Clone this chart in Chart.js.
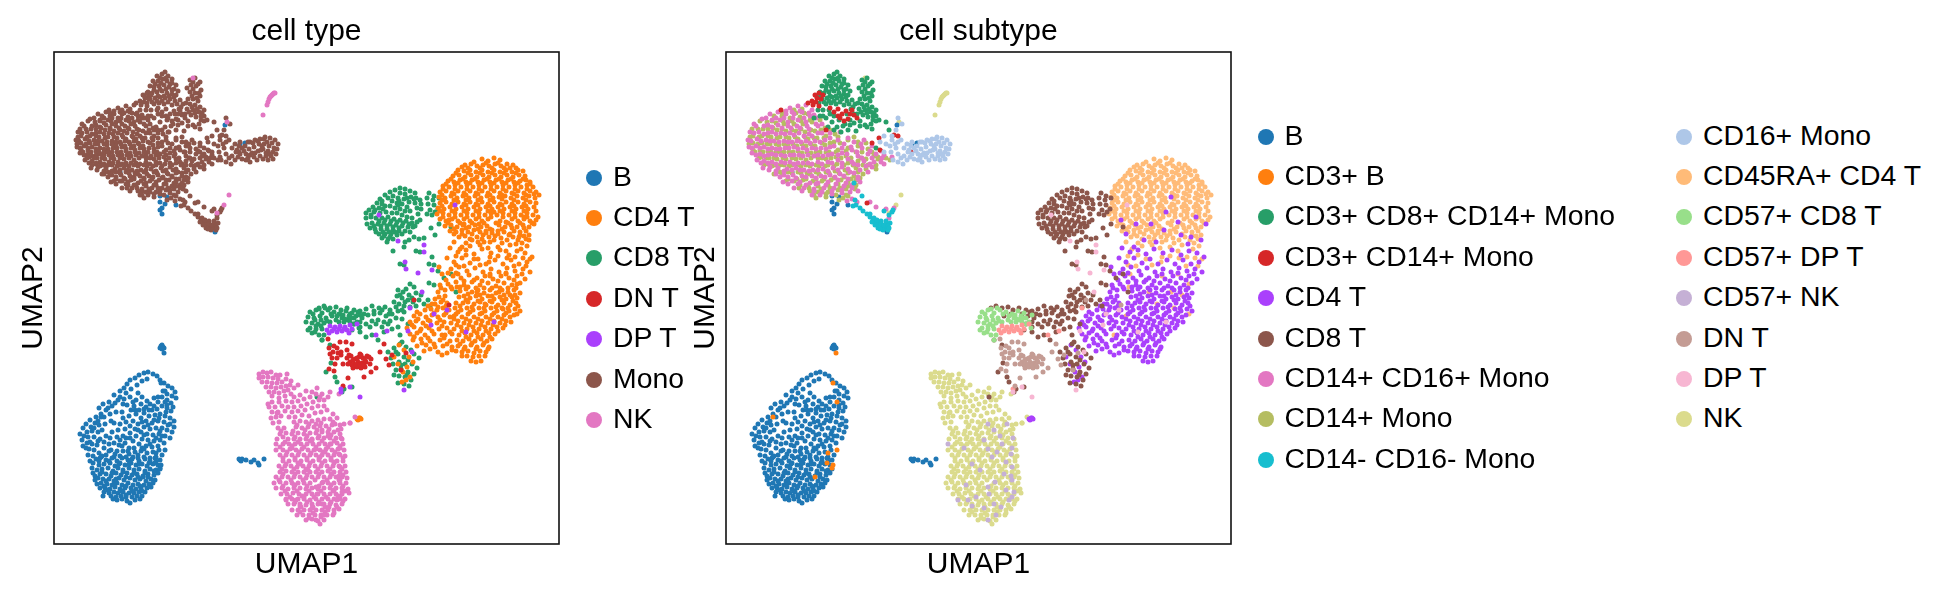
<!DOCTYPE html>
<html>
<head>
<meta charset="utf-8">
<title>UMAP cell type / cell subtype</title>
<script src="https://cdn.jsdelivr.net/npm/chart.js@4"></script>
<style>
    body { margin: 0; background: #fff; }
    #page { position: relative; width: 1947px; height: 599px; overflow: hidden; }
    canvas { position: absolute; top: 0; }
    .dot { position: absolute; width: 16px; height: 16px; border-radius: 50%; }
    .lab { position: absolute; font: 28.4px "Liberation Sans", Arial, sans-serif; line-height: 32px; white-space: nowrap; color: #000; }
</style>
</head>
<body>
<div id="page">
    <canvas id="typeChart" width="720" height="599" style="left:0"></canvas>
    <canvas id="subtypeChart" width="720" height="599" style="left:672px"></canvas>
</div>
<script>
// UMAP embedding per subtype, flat x,y pairs
const bCells = [
76,328,81,326,85,323,90,321,94,320,99,322,103,324,106,328,110,331,114,334,118,336,121,340,118,344,113,342,109,339,73,332,70,336,66,339,72,341,77,337,83,333,88,329,93,327,
108,345,113,348,117,351,104,350,100,346,96,352,108,354,113,356,117,359,103,357,98,358,92,355,87,352,82,348,80,354,85,358,90,361,95,364,101,363,106,362,111,364,116,366,120,369,116,372,110,370,104,369,98,371,92,369,87,366,82,362,77,358,75,364,79,369,84,372,90,375,96,377,102,376,108,376,113,378,118,380,111,384,105,382,99,383,93,382,87,380,81,377,76,374,72,370,69,366,66,372,71,377,76,381,82,384,88,387,94,388,100,389,106,388,110,391,104,394,98,395,92,394,85,392,79,389,
66,345,60,343,55,350,61,351,69,352,73,353,49,352,45,356,52,358,47,362,42,365,50,365,56,362,62,360,68,360,41,371,36,368,45,373,51,372,57,369,37,375,32,372,29,376,33,380,38,379,44,380,60,371,64,378,69,384,63,385,58,380,52,384,46,387,40,385,34,385,30,384,28,388,33,391,38,392,43,393,29,394,35,397,40,398,34,403,39,404,45,401,50,396,55,392,60,391,65,393,71,391,75,396,69,399,63,399,57,398,52,403,46,406,
75,402,81,400,87,399,93,401,99,400,105,398,108,403,102,405,96,406,90,405,84,406,78,407,72,405,66,404,60,405,
42,407,47,405,52,408,58,406,63,409,68,406,74,408,79,405,85,409,91,407,96,409,101,406,106,408,
39,411,45,413,50,412,56,411,61,414,66,411,71,413,77,411,82,413,88,412,93,414,99,412,104,413,
38,416,43,418,48,417,54,416,59,419,64,416,69,418,75,416,80,418,85,417,91,419,96,417,102,418,106,417,
39,421,41,424,46,422,52,422,57,424,62,421,67,423,73,421,78,423,83,422,89,424,94,422,100,423,104,421,
41,428,44,426,49,427,55,427,60,429,65,426,70,428,76,426,81,428,86,427,92,429,97,427,101,428,
43,432,47,431,53,432,58,433,63,431,68,433,74,431,79,433,84,432,90,433,95,432,99,431,
46,436,51,436,56,437,61,435,66,437,71,436,77,436,82,437,87,436,93,436,97,435,
50,440,55,441,60,440,64,441,69,440,75,441,80,441,85,440,91,440,
49,444,57,444,62,445,67,444,72,445,78,445,83,444,88,444,63,448,68,447,73,449,76,451,81,448,86,447,
107,294,108,293,109,295,106,296,110,296,108,297,
186,408,188,407,187,409,185,407,192,408,197,410,200,408,204,411,205,413,210,407,
106,144,113,145,111,152,106,150,108,156,106,158,108,162,122,153,66,120,171,73,186,92,191,91,161,180,
// second pass, between the first rows
111,339,104,345,93,349,88,345,84,341,76,345,79,350,90,357,95,358,113,353,119,355,122,346,100,354,105,366,112,360,88,370,94,373,100,368,81,358,106,379,114,373,120,375,90,383,84,378,76,386,96,392,102,386,108,384,116,386,88,396,80,396,
70,347,64,348,58,354,54,356,44,369,40,376,48,378,36,390,26,382,32,396,44,389,50,390,56,386,66,388,72,386,48,404,55,399,61,402,68,394,74,399,84,403,90,397,36,409,
45,409,55,409,65,412,75,412,85,412,95,411,102,409,48,420,58,421,69,420,80,421,91,421,100,419,52,429,62,427,72,425,84,425,94,425,50,434,60,433,72,434,86,434,54,438,68,439,78,439,88,439,59,447,72,443
];
const cd3B = [110,301,111,398,102,401,101,411,106,416,107,413,89,425,47,365,111,350,107,331];
const cd3Cd8Mono = [
103,24,108,22,111,20,114,24,118,27,99,29,104,29,109,27,113,29,118,31,122,33,96,34,100,35,105,34,110,33,115,35,120,37,94,40,98,41,103,40,108,39,113,41,118,42,122,43,91,45,96,47,101,46,106,45,111,46,116,47,121,49,93,51,100,52,105,51,110,52,118,53,
136,28,141,26,146,30,137,33,142,34,147,38,136,40,141,41,146,44,134,47,139,47,144,49,136,52,141,53,146,55,150,58,133,57,139,58,145,60,150,64,153,68,126,48,129,52,125,57,131,62,137,63,142,65,147,68,
92,58,97,58,103,58,108,64,113,68,119,72,124,68,128,71,134,69,139,73,145,72,150,69,100,66,106,70,117,74,122,78,130,79,111,75,146,77,160,70,163,78,
150,96,102,75,108,78,115,80,94,64,88,66,
// second pass
106,26,112,26,101,32,107,31,116,32,112,37,106,37,100,38,118,38,124,39,95,44,104,44,110,44,115,44,120,45,98,50,103,49,108,49,114,50,123,52,127,55,
139,30,144,32,133,36,139,37,145,41,138,44,143,46,132,51,138,55,143,57,148,61,135,60,141,61,147,64,128,62,121,62,124,73,134,74,141,75,97,64,104,62
];
const cd3Cd14Mono = [
82,51,86,49,90,50,89,43,93,41,91,46,95,47,87,53,93,54,97,43,
108,60,112,57,116,62,120,59,124,62,128,63,114,66,118,69,122,67,126,58,112,64,104,56,131,66,
55,58,100,78,146,91,154,98,153,86,168,83,172,84,141,151,185,100
];
const cd4T = [
// sparse over the upper lobe
445,145,470,165,440,160,425,172,410,172,455,183,452,170,465,185,395,168,418,188,438,178,430,190,462,192,480,172,475,188,400,182,408,195,
// mixing band
396,196,404,200,412,198,420,202,428,197,437,201,446,198,455,203,463,199,471,201,478,205,
393,206,400,210,408,206,416,211,424,207,432,212,441,208,449,212,457,208,465,212,473,210,
397,217,405,215,413,219,421,216,429,220,437,217,445,220,453,216,461,219,469,217,476,220,
399,224,407,226,415,223,423,226,431,224,439,227,447,224,455,226,463,224,471,227,
394,232,402,230,410,233,418,230,426,233,434,231,442,234,450,231,458,233,466,231,
391,238,398,237,406,239,412,237,418,240,424,238,430,241,436,238,442,241,448,238,454,240,460,238,466,241,
385,245,391,244,405,245,410,244,416,246,422,244,428,247,434,244,440,247,446,245,452,247,458,245,463,246,
381,252,387,250,393,251,409,251,414,250,420,252,426,250,432,253,438,250,444,253,450,251,456,253,462,251,
371,258,377,257,383,258,389,256,395,258,401,256,407,258,413,256,419,258,425,256,431,259,437,256,443,259,449,257,455,259,461,257,466,259,
360,264,366,262,372,265,378,263,384,265,390,263,396,265,402,262,408,265,414,262,420,265,426,262,432,265,438,263,444,265,450,263,456,265,460,263,
356,270,362,269,369,271,376,269,383,271,390,270,397,271,404,269,410,271,416,269,422,271,428,269,434,271,440,269,446,271,452,269,457,270,
353,276,360,275,367,277,375,276,385,277,393,276,400,277,407,275,413,277,419,275,425,277,431,275,437,277,443,275,449,276,
356,282,363,281,371,283,380,282,391,283,398,282,405,283,411,281,417,283,423,281,429,283,435,281,441,282,
359,288,367,287,376,289,386,288,396,289,403,288,409,289,415,287,421,289,427,287,433,289,438,287,
363,294,372,293,381,295,389,294,398,295,404,294,411,295,417,293,423,295,429,293,435,295,
370,299,384,300,393,301,402,299,408,300,414,299,420,301,426,299,432,300,413,304,419,305,425,304,431,304,417,309,422,310,427,309,
// clump next to the NK blob and the lower column
303,367,305,366,307,367,304,368,306,366,
345,293,350,298,340,305,344,312,349,320,353,315,356,325,359,310,355,305,348,330,352,328,
// second pass
402,221,410,229,420,228,428,229,436,222,444,229,452,221,460,228,468,222,397,235,406,235,414,235,422,236,430,236,438,236,446,236,454,236,462,236,
414,242,426,243,438,244,450,243,461,243,412,248,424,249,436,249,448,248,459,249,
374,254,384,255,392,254,402,251,406,254,418,255,430,256,442,255,454,256,464,254,
363,260,380,261,392,261,404,260,416,260,428,261,440,261,452,261,
364,267,374,268,386,268,400,267,412,267,424,267,436,267,448,267,358,273,372,274,388,274,403,273,415,273,427,273,439,273,451,273,
366,279,378,279,396,280,408,279,420,279,432,279,444,279,360,285,374,286,390,286,412,285,424,285,436,285,368,291,380,292,393,292,406,292,418,291,430,291,
376,297,398,298,410,297,422,297,434,297,388,303,408,304,
385,215,388,222,392,228,386,233,394,221,384,240,389,248,381,247,378,252,387,236
];
const cd8T = [
346,136,351,137,356,139,361,141,341,138,336,140,346,141,351,142,357,145,362,146,366,148,331,143,339,144,344,146,350,147,355,150,361,151,367,152,326,147,323,151,338,149,343,151,348,152,353,155,363,156,367,157,328,152,319,155,325,156,331,154,336,154,341,156,346,157,351,159,
315,158,312,161,320,160,326,161,332,160,338,161,343,161,348,163,353,165,358,166,364,162,366,168,312,166,317,165,322,166,328,166,334,165,340,167,346,168,352,169,358,171,363,170,313,172,318,171,324,172,330,171,336,172,342,173,348,174,354,175,359,175,316,176,321,177,327,177,333,177,339,178,345,179,351,179,356,180,325,182,331,182,337,182,343,183,328,186,334,187,339,187,333,190,
360,185,365,187,370,186,355,188,351,190,
375,141,380,144,373,146,379,148,385,146,374,152,380,153,376,158,384,157,373,162,378,163,381,160,385,172,377,176,
339,199,350,195,362,199,366,200,346,212,350,213,375,212,380,213,378,205,381,183,397,175,
384,219,375,231,380,233,356,232,360,235,374,248,390,226,397,222,402,240,
// bridge and lower left
344,238,349,240,355,243,362,241,367,243,343,244,348,246,354,248,359,250,365,248,340,250,345,252,350,254,356,255,362,254,370,252,376,254,
265,256,270,254,276,256,282,255,287,258,293,256,300,258,306,259,312,257,318,254,325,256,331,255,336,258,
296,262,302,264,308,266,314,263,320,262,326,261,332,264,338,262,344,259,350,260,
300,272,306,270,312,272,318,269,324,268,330,270,336,269,342,266,348,267,354,272,
268,288,276,293,298,278,306,280,312,285,318,283,324,288,330,280,338,277,344,275,346,283,
334,300,340,296,346,292,352,295,357,298,337,306,344,302,350,305,360,302,365,306,339,312,345,310,351,312,358,312,363,316,342,318,347,317,354,320,360,322,345,324,351,325,357,328,344,331,350,332,355,334,
277,311,281,325,290,337,298,335,283,330,272,320,263,345,288,340,
// second pass
345,149,353,146,360,147,334,146,328,149,321,158,329,157,344,153,356,159,317,163,325,169,331,168,337,169,343,170,349,171,355,172,361,174,320,174,327,174,333,174,339,175,345,176,322,180,329,180,335,180,341,180,348,182,330,184,336,185,
352,237,358,246,346,243,351,250,342,255,348,258,335,262,328,258,320,259,310,262,304,260,
285,262,278,264,306,275,316,275,322,272,328,275,334,272,348,290,342,300,354,308,347,313,353,323,340,323
];
const cd14Cd16Mono = [
64,56,72,54,80,53,86,58,44,62,52,60,60,62,68,62,76,60,84,64,36,67,46,68,54,68,62,70,72,68,80,70,90,66,28,72,38,74,46,75,56,76,65,76,74,76,83,77,92,74,
24,80,33,80,42,81,50,82,59,82,68,83,78,84,86,84,96,81,22,88,31,87,40,88,48,89,58,89,66,90,75,90,84,91,94,90,104,86,114,80,
23,95,30,94,38,95,46,96,54,97,63,96,72,97,81,98,90,97,100,97,108,94,118,92,128,90,138,88,26,101,34,102,42,103,50,103,59,104,68,103,77,104,88,104,97,104,106,102,116,101,126,98,136,96,146,94,
31,108,38,109,46,110,55,110,64,110,72,111,82,111,92,110,102,110,112,108,122,107,132,104,142,102,150,102,158,103,37,116,44,115,52,116,61,117,70,116,78,118,87,118,97,117,107,116,116,115,128,112,138,109,148,110,158,112,
50,122,58,123,67,123,76,124,86,124,95,124,104,123,114,122,124,120,134,118,146,115,57,130,66,129,74,130,84,131,92,131,102,130,112,128,122,127,132,125,142,120,
68,136,78,136,88,137,98,136,108,136,118,134,126,133,134,130,86,143,94,143,106,142,116,141,124,140,132,139,121,149,126,147,131,150,144,150,150,155,160,157,163,166,168,156,
// second pass
60,59,66,60,74,59,83,61,40,66,50,66,58,66,67,66,78,66,88,63,30,74,42,73,52,73,62,74,71,74,81,74,90,72,96,72,
28,81,38,82,46,80,55,81,64,81,73,81,83,82,92,81,104,81,25,89,35,89,44,89,53,90,62,90,71,89,80,89,89,89,99,88,112,88,122,86,
26,96,34,96,42,97,50,97,59,96,68,95,77,96,86,96,95,96,104,95,116,96,125,95,135,92,30,103,38,104,46,102,55,103,64,103,73,103,82,103,92,103,102,103,112,103,121,102,131,100,144,99,155,99,
35,111,42,111,50,112,59,111,68,112,77,111,86,112,96,112,106,111,116,111,126,110,136,106,146,106,156,106,166,105,
43,118,50,119,58,119,66,118,74,118,83,119,92,118,102,119,112,118,122,117,132,113,144,112,155,110,
54,125,62,125,70,126,80,125,90,126,99,125,109,125,118,124,128,121,140,114,62,132,72,132,80,133,90,132,100,133,110,132,120,131,132,127,76,139,88,139,96,140,106,139,116,138,126,136
];
const cd14Mono = [
68,58,76,57,48,64,56,64,64,66,74,65,82,62,41,70,50,71,58,72,68,72,77,72,86,70,94,68,32,77,42,77,51,78,60,79,70,79,79,80,89,79,99,76,
27,84,36,84,45,85,54,85,63,86,72,87,82,87,91,86,100,84,109,82,27,91,36,91,44,92,53,93,62,93,71,94,80,94,89,94,99,93,108,90,122,88,
27,98,34,98,42,99,50,100,58,100,67,100,76,101,85,101,94,100,103,100,112,98,122,96,132,94,142,97,35,105,43,106,51,107,60,107,70,107,80,108,92,106,100,107,110,105,120,104,130,100,140,107,152,105,164,108,
42,112,49,113,58,113,66,113,75,114,84,114,93,114,102,113,111,112,122,111,132,109,142,113,152,107,54,120,62,120,72,120,81,121,90,120,100,120,109,119,119,118,130,116,140,117,150,117,
62,127,71,127,80,127,90,127,98,127,108,126,118,125,128,124,137,122,74,133,82,133,92,134,102,133,112,132,122,130,130,128,84,139,92,140,102,140,112,138,120,137,129,137,
113,148,117,146,122,144,129,135,100,145,90,146,
// second pass
56,61,70,61,78,61,34,69,46,69,57,69,66,69,75,69,84,68,94,65,26,77,37,77,47,76,56,77,66,78,75,77,85,78,95,78,104,78,
24,85,33,85,42,84,51,86,60,85,69,85,79,85,88,86,98,86,112,85,128,85,140,91,23,92,32,92,41,92,50,92,58,92,67,92,76,92,85,92,96,91,104,91,114,91,132,90,
29,100,37,100,45,100,54,100,63,100,72,99,81,100,90,100,100,100,110,100,120,99,136,100,146,100,33,106,40,106,48,106,57,106,66,106,75,106,85,106,96,106,105,106,115,106,125,106,135,106,148,104,160,106,
38,113,46,114,54,113,63,114,71,113,80,113,90,113,99,114,108,114,118,113,127,113,137,113,150,113,48,122,56,122,66,121,75,121,84,122,93,122,103,121,113,121,122,121,132,120,
60,129,68,129,77,128,87,129,96,129,105,128,115,128,125,127,134,126,73,136,83,136,95,137,104,136,114,136,122,134,130,133,88,143,100,142,110,143,120,143
];
const cd14NegMono = [
130,153,134,156,137,159,141,162,144,165,147,168,150,171,153,172,156,174,159,176,162,178,157,178,152,176,149,173,146,170,155,169,160,172,164,171,167,158,158,159,163,163,166,160,160,169,129,148,127,154,128,131,136,144,
148,166,151,168,155,172,158,173,162,174,154,177,144,162,163,176
];
const cd16Mono = [
172,66,176,72,170,78,166,84,158,84,154,90,160,92,166,88,172,90,178,96,170,96,165,100,158,100,
181,92,186,90,191,94,196,90,201,88,206,87,211,85,216,86,221,88,224,92,220,96,215,94,210,92,205,92,200,95,195,97,188,96,183,98,186,102,192,102,198,101,204,99,209,97,214,99,219,100,223,97,217,104,212,104,206,104,200,105,194,106,188,107,181,108,214,108,219,107,196,110,177,112,172,110,167,108,
// second pass
185,94,194,90,199,91,204,89,208,94,213,90,218,91,207,98,212,101,201,101,196,103,190,99,184,105,178,104,172,102,175,88,169,92,164,94,192,108,203,108,209,107,216,102,222,102,210,87,175,106,182,100
];
const cd45raCd4 = [
428,107,434,109,440,106,446,108,
411,113,417,112,423,114,429,113,435,114,441,112,447,114,453,112,459,113,
404,118,410,119,416,118,422,120,428,118,434,120,440,118,446,120,452,118,458,120,464,118,469,119,
399,124,405,123,411,125,417,123,423,125,429,123,435,125,441,123,447,125,453,123,459,125,465,123,471,124,
394,129,400,130,406,128,412,130,418,128,424,130,430,128,436,130,442,128,448,130,454,128,460,130,466,129,472,128,476,130,
389,134,395,135,401,133,407,135,413,133,419,135,425,133,431,135,437,133,443,135,449,133,455,135,461,133,467,135,473,133,479,135,
386,140,392,139,398,141,404,139,410,141,416,139,422,141,428,139,434,141,440,139,446,141,452,139,458,141,464,139,470,141,476,139,482,140,
385,145,391,146,397,144,403,146,409,144,415,146,421,144,427,146,433,144,439,146,451,144,457,146,463,144,469,146,475,144,481,146,485,143,
386,151,392,150,398,152,404,150,410,152,416,150,422,152,428,150,434,152,440,150,446,152,452,150,458,152,464,150,470,152,476,150,482,151,
384,156,390,157,396,155,402,157,408,155,414,157,420,155,426,157,432,155,438,157,444,155,450,157,456,155,462,157,468,155,474,157,480,155,
383,162,389,161,395,163,401,161,407,163,413,161,419,163,425,161,431,163,437,161,443,163,449,161,455,163,461,161,467,163,473,161,479,163,484,165,
386,167,392,169,398,167,404,169,410,167,416,169,422,167,428,169,434,167,446,169,458,167,464,169,470,167,476,169,482,168,
391,174,397,173,403,175,409,173,415,175,421,173,427,175,433,174,445,173,451,175,457,173,463,175,469,173,475,175,
396,179,402,180,408,178,414,180,420,178,426,180,432,179,438,181,444,179,450,180,460,179,466,180,472,179,
405,185,411,184,423,185,429,183,435,185,441,184,447,186,453,188,459,185,470,184,475,183,
400,190,412,191,424,190,436,190,448,191,456,193,468,191,473,194,
406,197,416,194,426,193,434,196,444,195,452,199,467,197,
402,204,412,203,420,207,436,205,444,204,453,206,461,205,469,206,476,207,
410,214,426,213,435,210,460,214,472,214,402,213,
404,222,436,224,452,222,403,235,445,240,423,240,463,232,
360,285,388,283,400,264,431,252,448,256,456,243,463,262,
// second pass
420,110,432,111,444,111,456,116,408,115,414,116,426,116,438,116,450,116,462,116,402,121,414,121,426,121,438,121,450,121,462,121,397,127,409,127,421,127,433,127,445,127,457,127,469,127,392,132,404,131,416,131,428,131,440,131,452,131,464,131,476,132,
389,137,401,137,413,137,425,137,437,137,449,137,461,137,473,137,388,143,400,142,412,143,424,142,436,143,448,143,460,142,472,143,480,142,388,148,400,148,412,148,424,148,436,148,448,147,460,148,472,148,
388,154,400,153,412,153,424,153,436,154,448,153,460,154,472,154,386,159,398,159,410,159,422,159,434,159,446,159,458,159,470,159,482,159,389,165,401,165,413,165,425,165,437,165,449,165,461,165,473,165,
394,171,406,171,418,171,430,171,442,171,454,171,466,171,478,171,400,177,412,176,424,177,436,177,448,177,458,176,470,176,408,182,418,182,432,181,444,182,456,182,466,183,416,187,428,187,440,188,464,188,472,187
];
const cd57Cd8 = [
256,260,262,258,268,261,274,258,280,260,286,262,292,259,298,261,254,265,260,266,266,264,272,266,258,271,264,272,270,271,276,270,282,268,288,266,294,268,300,266,306,263,256,276,262,277,268,277,300,272,305,276,258,281,265,283,268,288,296,270,290,270,270,283,
259,262,265,257,271,256,277,262,283,264,289,263,295,264,252,270,261,268,267,268,273,269,285,270,291,267,297,266,262,274,267,274,303,270,254,278,261,280
];
const cd57DpT = [
276,274,281,275,286,274,291,275,296,273,278,279,283,280,288,279,293,278,298,277,273,278,303,272,287,337,322,283,356,256,333,279,280,277,285,277,290,277,275,281,295,281
];
const cd57NK = [
262,372,281,372,268,378,274,384,287,386,222,392,238,396,258,388,276,392,286,396,262,397,271,400,285,402,280,410,266,405,246,412,254,418,286,415,278,422,285,424,269,430,262,435,240,433,250,445,263,442,280,438,286,428,288,440,283,448,268,452,275,455,286,445,246,454,258,456,270,463,262,468,242,448,232,448
];
const dnT = [
293,306,297,304,301,307,305,305,309,306,313,304,317,307,296,310,300,312,304,310,308,311,312,310,316,312,299,316,303,315,307,316,311,315,
275,296,279,300,283,296,278,306,283,306,287,303,281,312,289,312,275,317,280,319,287,300,292,290,298,292,293,298,286,290,
326,300,332,307,338,303,322,316,310,325,306,302,289,334,274,287,347,318,335,313,
330,292,317,320,294,326,352,301,360,248,395,253,
295,303,299,308,303,306,307,303,311,308,315,305,298,313,302,313,306,313,310,313,294,312,276,302,284,301,280,294
];
const dpT = [
344,189,351,210,352,217,370,193,370,200,364,221,325,163,306,345,296,335,
401,153,412,280,380,262,358,300,350,338,393,258,377,273,440,270,378,218,368,240,354,279,287,340
];
const nkCells = [
205,322,209,320,213,321,217,320,222,323,226,323,233,322,205,326,209,325,214,325,219,326,224,327,208,330,213,330,218,331,223,331,228,330,232,327,237,329,212,335,217,335,222,336,227,335,232,334,236,333,215,340,220,340,225,341,230,339,234,338,240,336,244,333,218,344,225,346,231,344,237,342,
240,345,246,343,252,339,258,340,263,336,262,342,268,342,256,345,250,347,244,349,238,350,232,349,225,350,218,350,215,355,221,355,228,354,234,355,240,355,247,354,253,352,259,350,265,348,270,348,274,345,
218,360,224,360,231,359,238,360,244,359,251,358,258,356,264,354,270,354,217,366,222,365,227,364,235,365,241,365,255,364,261,361,267,360,273,358,279,362,248,363,
240,370,246,369,252,370,258,369,264,368,270,367,276,367,283,366,219,371,225,370,290,372,296,371,286,373,
224,376,230,376,242,375,248,376,254,375,260,375,266,374,272,374,278,373,284,378,
226,382,232,381,238,382,244,381,250,382,256,381,262,381,268,380,274,380,280,380,286,382,
223,387,234,387,240,387,246,387,252,387,258,387,264,386,270,386,276,386,282,386,288,387,
229,392,235,392,241,392,247,392,253,392,259,392,265,392,271,392,277,392,283,391,289,392,
222,398,229,398,236,397,242,398,248,397,254,398,260,398,266,398,272,397,278,398,284,397,290,398,
226,403,232,403,238,403,244,403,250,403,256,403,262,403,268,403,274,403,280,403,286,403,291,404,
229,409,235,409,241,408,247,409,253,408,259,409,265,408,271,409,277,408,283,409,289,409,
225,414,231,414,237,414,243,415,249,414,255,414,261,414,267,414,273,414,279,414,285,414,291,414,
226,420,232,419,238,420,244,420,250,420,256,420,262,420,268,420,274,419,280,420,286,420,292,420,
222,425,228,425,234,425,240,425,246,425,252,426,258,425,264,425,270,425,276,425,282,425,288,425,293,426,
220,431,226,430,232,431,238,431,244,431,250,431,256,431,268,431,274,431,280,431,286,431,292,431,
222,436,228,436,234,437,240,436,246,436,252,437,258,436,264,437,270,436,276,436,282,436,288,436,294,437,
227,442,233,442,239,441,245,442,252,442,258,442,264,442,270,442,276,442,282,442,288,442,295,441,
232,447,238,447,244,447,250,447,256,448,262,447,268,447,274,447,280,447,286,447,291,447,
234,452,240,452,246,452,252,453,258,452,264,452,270,452,276,452,282,453,288,452,
238,458,244,458,250,458,256,458,262,458,268,458,274,458,280,458,285,457,
243,463,249,463,255,463,261,463,267,463,273,463,279,463,252,468,258,467,264,469,270,468,266,472,
213,53,214,50,215,47,216,45,217,44,218,43,219,42,220,41,221,41,209,63,139,26,173,70,175,143,170,153,163,161,
276,340,285,342,296,371,301,365,214,352,223,361,266,345,
// second pass
243,373,255,372,267,371,279,370,227,379,239,379,251,378,263,378,275,377,287,377,229,385,241,385,253,384,265,384,277,383,231,390,244,390,256,389,268,389,280,389,226,395,238,394,250,395,262,395,274,395,286,394,
233,400,245,400,257,401,269,400,281,400,229,406,241,406,253,406,265,406,277,406,289,406,232,412,244,411,256,411,268,411,280,411,228,417,240,417,252,417,264,417,276,417,288,417,
229,422,241,422,253,423,265,422,277,422,289,423,225,428,237,428,249,428,261,428,273,428,285,428,229,434,241,433,253,434,265,434,277,433,289,434,231,439,243,439,255,439,267,439,279,439,291,439,
236,445,248,444,260,445,272,445,284,444,241,450,253,450,265,450,277,450,289,449,247,455,259,455,271,455,283,455,246,460,259,461,271,460,280,461,255,466,267,465
];

const subtypeNames = ['B', 'CD3+ B', 'CD3+ CD8+ CD14+ Mono', 'CD3+ CD14+ Mono', 'CD4 T', 'CD8 T', 'CD14+ CD16+ Mono', 'CD14+ Mono', 'CD14- CD16- Mono', 'CD16+ Mono', 'CD45RA+ CD4 T', 'CD57+ CD8 T', 'CD57+ DP T', 'CD57+ NK', 'DN T', 'DP T', 'NK'];
const subtypeColors = ['#1f77b4', '#ff7f0e', '#279e68', '#d62728', '#aa40fc', '#8c564b', '#e377c2', '#b5bd61', '#17becf', '#aec7e8', '#ffbb78', '#98df8a', '#ff9896', '#c5b0d5', '#c49c94', '#f7b6d2', '#dbdb8d'];
const subtypeCells = [bCells, cd3B, cd3Cd8Mono, cd3Cd14Mono, cd4T, cd8T, cd14Cd16Mono, cd14Mono, cd14NegMono, cd16Mono, cd45raCd4, cd57Cd8, cd57DpT, cd57NK, dnT, dpT, nkCells];

const typeNames = ['B', 'CD4 T', 'CD8 T', 'DN T', 'DP T', 'Mono', 'NK'];
const typeColors = ['#1f77b4', '#ff7f0e', '#279e68', '#d62728', '#aa40fc', '#8c564b', '#e377c2'];
// which subtypes roll up into each cell type
const typeMembers = {
    'B': ['B', 'CD3+ B'],
    'CD4 T': ['CD45RA+ CD4 T', 'CD4 T'],
    'CD8 T': ['CD8 T', 'CD57+ CD8 T'],
    'DN T': ['DN T'],
    'DP T': ['DP T', 'CD57+ DP T'],
    'Mono': ['CD3+ CD8+ CD14+ Mono', 'CD3+ CD14+ Mono', 'CD14+ CD16+ Mono', 'CD14+ Mono', 'CD14- CD16- Mono', 'CD16+ Mono'],
    'NK': ['NK', 'CD57+ NK']
};

function toPoints(flat) {
    var out = [];
    for (var i = 0; i < flat.length; i += 2) {
        out.push({ x: flat[i], y: flat[i + 1] });
    }
    return out;
}

// frame around the axes, all four sides
const framePlugin = {
    id: 'frame',
    afterDraw(chart) {
        var a = chart.chartArea, ctx = chart.ctx;
        ctx.save();
        ctx.strokeStyle = '#111';
        ctx.lineWidth = 1.6;
        ctx.strokeRect(a.left, a.top, a.right - a.left, a.bottom - a.top);
        ctx.restore();
    }
};

function drawUmap(canvasId, title, datasets) {
    var font = { family: '"Liberation Sans", Arial, sans-serif', size: 30, weight: 'normal' };
    return new Chart(document.getElementById(canvasId), {
        type: 'scatter',
        data: { datasets: datasets },
        plugins: [framePlugin],
        options: {
            responsive: false,
            animation: false,
            layout: { padding: { right: 161 } },
            plugins: {
                legend: { display: false },
                tooltip: { enabled: false },
                title: { display: true, text: title, color: '#000', font: font, fullSize: false, padding: { top: 14, bottom: 2 } }
            },
            elements: { point: { radius: 2.5, borderWidth: 0 } },
            scales: {
                x: {
                    min: 0, max: 505,
                    grid: { display: false }, border: { display: false },
                    ticks: { display: false },
                    title: { display: true, text: 'UMAP1', color: '#000', font: font, padding: { top: 4, bottom: 16 } },
                    afterFit(s) { s.height = 55; }
                },
                y: {
                    min: 0, max: 492, reverse: true,
                    grid: { display: false }, border: { display: false },
                    ticks: { display: false },
                    title: { display: true, text: 'UMAP2', color: '#000', font: font, padding: { top: 16, bottom: 0 } },
                    afterFit(s) { s.width = 54; }
                }
            }
        }
    });
}

// Chart.js paints the first dataset on top, so the lists are reversed
function subtypeDataset(name) {
    var i = subtypeNames.indexOf(name);
    return { label: name, data: toPoints(subtypeCells[i]), backgroundColor: subtypeColors[i] };
}

const typeDrawOrder = ['CD8 T', 'B', 'Mono', 'CD4 T', 'NK', 'DN T', 'DP T'];
const typeDatasets = typeDrawOrder.map(function (t) {
    var flat = [];
    typeMembers[t].forEach(function (s) { flat = flat.concat(subtypeCells[subtypeNames.indexOf(s)]); });
    return { label: t, data: toPoints(flat), backgroundColor: typeColors[typeNames.indexOf(t)] };
}).reverse();

const subtypeDrawOrder = ['NK', 'CD57+ NK', 'B', 'CD3+ B', 'CD14+ Mono', 'CD14+ CD16+ Mono', 'CD3+ CD8+ CD14+ Mono', 'CD3+ CD14+ Mono', 'CD14- CD16- Mono', 'CD16+ Mono', 'CD45RA+ CD4 T', 'CD4 T', 'CD8 T', 'CD57+ CD8 T', 'CD57+ DP T', 'DN T', 'DP T'];
const subtypeDatasets = subtypeDrawOrder.map(subtypeDataset).reverse();

drawUmap('typeChart', 'cell type', typeDatasets);
drawUmap('subtypeChart', 'cell subtype', subtypeDatasets);

// legends are plain html rows next to the axes
function addLegend(names, colors, dotX, firstY, step, perColumn, columnGap) {
    var page = document.getElementById('page');
    names.forEach(function (name, i) {
        var col = Math.floor(i / perColumn), row = i % perColumn;
        var x = dotX + col * columnGap, y = firstY + row * step;
        var dot = document.createElement('div');
        dot.className = 'dot';
        dot.style.left = (x - 8) + 'px';
        dot.style.top = (y - 8) + 'px';
        dot.style.background = colors[i];
        var lab = document.createElement('div');
        lab.className = 'lab';
        lab.textContent = name;
        lab.style.left = (x + 19) + 'px';
        lab.style.top = (y - 18) + 'px';
        page.appendChild(dot);
        page.appendChild(lab);
    });
}
addLegend(typeNames, typeColors, 594, 177.5, 40.4, 7, 0);
addLegend(subtypeNames, subtypeColors, 1265.5, 136.5, 40.4, 9, 418.5);
</script>
</body>
</html>
